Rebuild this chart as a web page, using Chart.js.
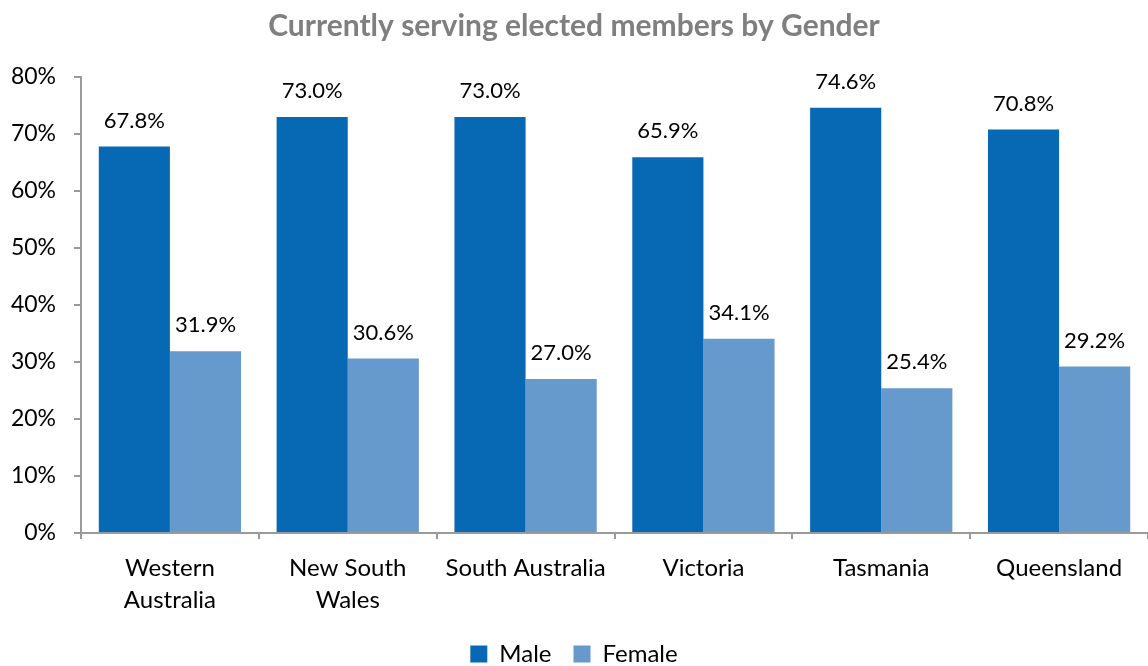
<!DOCTYPE html>
<html>
<head>
<meta charset="utf-8">
<title>Currently serving elected members by Gender</title>
<script src="https://cdn.jsdelivr.net/npm/chart.js@4.4.1/dist/chart.umd.min.js"></script>
<style>
  html, body { margin: 0; padding: 0; background: #ffffff; }
  #wrap { width: 1148px; height: 666px; }
</style>
</head>
<body>
<div id="wrap"><canvas id="chart" width="1148" height="666"></canvas></div>
<script>
// Jurisdictions (multi-line labels where they wrap)
const categories = [
  ['Western', 'Australia'],
  ['New South', 'Wales'],
  'South Australia',
  'Victoria',
  'Tasmania',
  'Queensland'
];

// Share of currently serving elected members, per cent
const maleValues = [67.8, 73.0, 73.0, 65.9, 74.6, 70.8];
const femaleValues = [31.9, 30.6, 27.0, 34.1, 25.4, 29.2];

const seriesNames = ['Male', 'Female'];
const seriesColors = ['#0769B4', '#6699CC'];

const FONT = 'Lato, "Open Sans", "DejaVu Sans", sans-serif';
const AXIS_GREY = '#9a9a9a';

// Writes each bar's value above it
const valueLabels = {
  id: 'valueLabels',
  afterDatasetsDraw(chart) {
    const ctx = chart.ctx;
    ctx.save();
    ctx.font = '22px ' + FONT;
    ctx.fillStyle = '#000000';
    ctx.textAlign = 'center';
    ctx.textBaseline = 'middle';
    chart.data.datasets.forEach((ds, i) => {
      chart.getDatasetMeta(i).data.forEach((bar, j) => {
        ctx.fillText(ds.data[j].toFixed(1) + '%', bar.x, bar.y - 26);
      });
    });
    ctx.restore();
  }
};

new Chart(document.getElementById('chart'), {
  type: 'bar',
  data: {
    labels: categories,
    datasets: [
      { label: seriesNames[0], data: maleValues, backgroundColor: seriesColors[0] },
      { label: seriesNames[1], data: femaleValues, backgroundColor: seriesColors[1] }
    ]
  },
  options: {
    responsive: false,
    animation: false,
    devicePixelRatio: 1,
    layout: { padding: { top: 0, left: 0, right: 0, bottom: -10 } },
    datasets: {
      bar: { categoryPercentage: 0.8, barPercentage: 1.0, borderWidth: 0 }
    },
    plugins: {
      title: {
        display: true,
        text: 'Currently serving elected members by Gender',
        color: '#7F7F7F',
        font: { family: FONT, size: 30, weight: 'bold', lineHeight: 1.2 },
        padding: { top: 8, bottom: 33 }
      },
      legend: {
        position: 'bottom',
        labels: {
          color: '#000000',
          font: { family: FONT, size: 24 },
          boxWidth: 17,
          boxHeight: 17,
          padding: 22
        }
      },
      tooltip: { enabled: false }
    },
    scales: {
      x: {
        offset: true,
        grid: {
          display: true,
          offset: true,
          drawOnChartArea: false,
          drawTicks: true,
          tickLength: 6,
          color: AXIS_GREY,
          lineWidth: 2
        },
        border: { display: true, color: AXIS_GREY, width: 2 },
        ticks: {
          color: '#000000',
          font: { family: FONT, size: 24, lineHeight: 1.33 },
          padding: 13,
          maxRotation: 0,
          autoSkip: false
        },
        afterFit(scale) { scale.height = 87; }
      },
      y: {
        min: 0,
        max: 80,
        ticks: {
          stepSize: 10,
          color: '#000000',
          font: { family: FONT, size: 23 },
          padding: 18,
          callback: (v) => v + '%'
        },
        grid: {
          display: true,
          drawOnChartArea: false,
          drawTicks: true,
          tickLength: 7,
          color: AXIS_GREY,
          lineWidth: 2
        },
        border: { display: true, color: AXIS_GREY, width: 2 },
        afterFit(scale) { scale.width = 81; }
      }
    }
  },
  plugins: [valueLabels]
});
</script>
</body>
</html>
